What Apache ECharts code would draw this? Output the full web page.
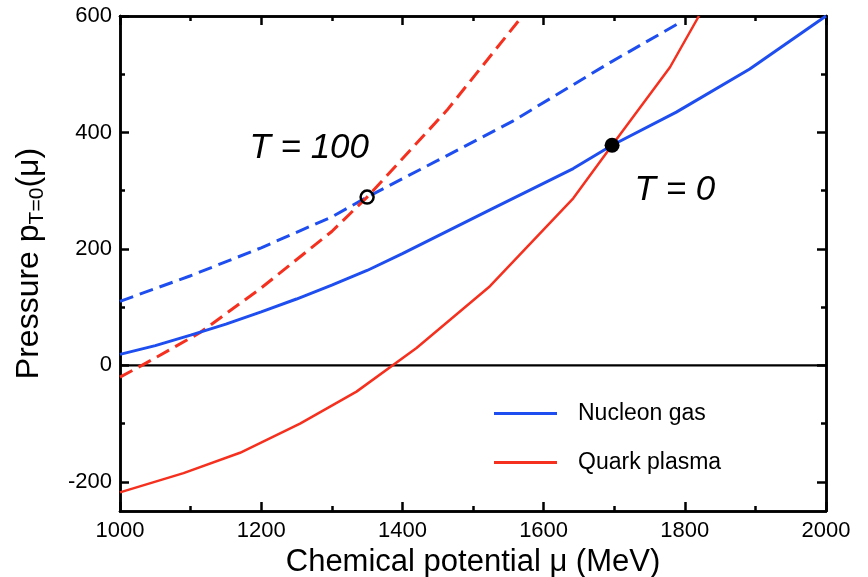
<!DOCTYPE html>
<html><head><meta charset="utf-8">
<script src="https://cdn.jsdelivr.net/npm/echarts@6/dist/echarts.min.js"></script>
<style>html,body{margin:0;padding:0;background:#fff}#c{width:868px;height:577px}</style>
</head><body><div id="c"></div>
<script>
// T = 0 curves
const nucleonT0 = [[1000,19],[1050,34],[1100,52],[1150,71],[1200,92],[1250,114],[1300,138],[1350,163],[1400,192],[1524,267],[1642,338],[1697,378],[1788,435],[1892,509],[2000,600]];
const quarkT0 = [[1000,-218],[1090,-185],[1170,-150],[1255,-100],[1335,-45],[1420,30],[1524,136],[1642,287],[1697,378],[1779,512],[1820,600]];
// T = 100 curves
const nucleonT100 = [[1000,110],[1100,154],[1200,202],[1300,255],[1350,289],[1450,352],[1557,420],[1694,520],[1795,590]];
const quarkT100 = [[1000,-20],[1031,0],[1113,56],[1200,133],[1300,230],[1350,289],[1463,438],[1570,600]];
const openPoint = [[1350,289]];
const filledPoint = [[1697,378]];
const zeroLine = [[1000,0],[2000,0]];
const annotations = [{value:[1268,373],text:'T = 100'},{value:[1786,301],text:'T = 0'}];
const legendNames = ['Nucleon gas','Quark plasma'];
const xMajorTicks = [1000,1200,1400,1600,1800,2000];
const xMinorTicks = [1100,1300,1500,1700,1900];
const yMajorTicks = [-200,0,200,400,600];
const yMinorTicks = [-100,100,300,500];

const BLUE = '#1f4ef0', RED = '#f5301f';
const FONT = 'Liberation Sans';
const chart = echarts.init(document.getElementById('c'));
const LW = 2.5;
function axis(kind, pos, ticks, len, labels, extra){
  const isX = kind==='x';
  return Object.assign({
    type:'value',
    min: isX?1000:-250, max: isX?2000:600,
    position:pos,
    axisLine:{show:true,onZero:false,lineStyle:{color:'#000',width:LW}},
    axisTick:{show:true,inside:true,length:len,customValues:ticks,lineStyle:{color:'#000',width:LW}},
    axisLabel: labels ? {show:true,customValues:ticks,fontSize:22,color:'#000',fontFamily:FONT,
       margin: isX?9:8, formatter:v=>String(v)} : {show:false},
    splitLine:{show:false}
  }, extra||{});
}
chart.setOption({
  animation:false,
  backgroundColor:'#fff',
  textStyle:{fontFamily:FONT},
  grid:{left:120,right:42,top:16,bottom:66,containLabel:false,outerBoundsMode:'none'},
  legend:{
    data:legendNames, orient:'vertical', left:489, top:397, itemGap:26,
    icon:'rect', itemWidth:63, itemHeight:3,
    textStyle:{fontSize:23,color:'#000',fontFamily:FONT,padding:[0,0,0,16]}
  },
  xAxis:[
    axis('x','bottom',xMajorTicks,9,true,{name:'Chemical potential μ (MeV)',nameLocation:'middle',nameGap:33,
      nameTextStyle:{fontSize:31,color:'#000',fontFamily:FONT}}),
    axis('x','bottom',xMinorTicks,5,false),
    axis('x','top',xMajorTicks,9,false),
    axis('x','top',xMinorTicks,5,false)
  ],
  yAxis:[
    axis('y','left',yMajorTicks,9,true,{name:'Pressure p{sub|T=0}(μ)',nameLocation:'middle',nameGap:72,
      nameTextStyle:{fontSize:32,color:'#000',fontFamily:FONT,
        rich:{sub:{fontSize:21,verticalAlign:'bottom',padding:[16,0,0,0],fontFamily:FONT,color:'#000'}}}}),
    axis('y','left',yMinorTicks,5,false),
    axis('y','right',yMajorTicks,9,false),
    axis('y','right',yMinorTicks,5,false)
  ],
  series:[
    {type:'line',name:'zero',data:zeroLine,symbol:'none',lineStyle:{color:'#000',width:2.2},z:1,silent:true},
    {type:'line',name:'Nucleon gas T=100',data:nucleonT100,symbol:'none',lineStyle:{color:BLUE,width:3,type:[14,7]},z:2},
    {type:'line',name:'Quark plasma T=100',data:quarkT100,symbol:'none',lineStyle:{color:RED,width:3,type:[14,7]},z:2},
    {type:'line',name:'Nucleon gas',data:nucleonT0,symbol:'none',itemStyle:{color:BLUE},lineStyle:{color:BLUE,width:3},z:3},
    {type:'line',name:'Quark plasma',data:quarkT0,symbol:'none',itemStyle:{color:RED},lineStyle:{color:RED,width:2.5},z:3},
    {type:'scatter',name:'open',data:openPoint,symbol:'circle',symbolSize:13,
      itemStyle:{color:'rgba(0,0,0,0)',borderColor:'#000',borderWidth:2.5,opacity:1},z:5},
    {type:'scatter',name:'filled',data:filledPoint,symbol:'circle',symbolSize:15,itemStyle:{color:'#000',opacity:1},z:5},
    {type:'scatter',name:'labels',data:annotations,symbolSize:0,z:6,itemStyle:{opacity:1},
      label:{show:true,position:'inside',formatter:p=>p.data.text,fontSize:35,fontStyle:'italic',color:'#000',fontFamily:FONT}}
  ]
});
</script></body></html>
